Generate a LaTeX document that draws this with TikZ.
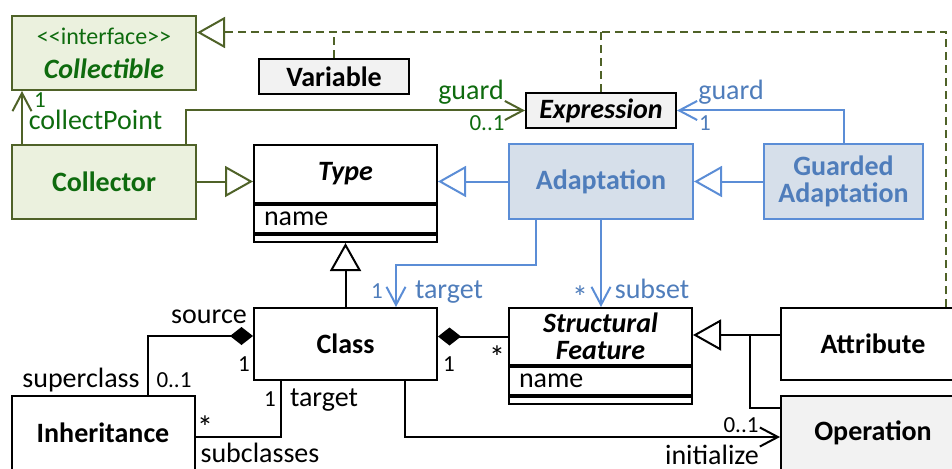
\documentclass[tikz,border=0pt]{standalone}
\usepackage{fontspec}
\setmainfont{Carlito}
\usetikzlibrary{arrows.meta}
\definecolor{grline}{HTML}{4F6228}
\definecolor{grfill}{HTML}{EBF1DE}
\definecolor{grtext}{HTML}{0E6B0E}
\definecolor{blline}{HTML}{5B8DD6}
\definecolor{blfill}{HTML}{D6DFEA}
\definecolor{bltext}{HTML}{4F7DBB}
\definecolor{ltgray}{HTML}{F2F2F2}
\tikzset{
  box/.style={draw, line width=2pt, inner sep=0pt, align=center, font=\fontsize{28}{27}\selectfont\bfseries},
  greenbox/.style={box, draw=grline, fill=grfill, text=grtext},
  bluebox/.style={box, draw=blline, fill=blfill, text=bltext},
  graybox/.style={box, fill=ltgray},
  attrbox/.style={draw, line width=2pt, inner ysep=0pt, inner xsep=10pt, text width=163pt, minimum height=28pt, align=left, font=\fontsize{28}{27}\selectfont},
  opsbox/.style={draw, line width=2pt, inner sep=0pt, minimum width=183pt, minimum height=7pt},
  role/.style={font=\fontsize{28}{28}\selectfont, anchor=base, inner sep=0pt},
  mult/.style={font=\fontsize{23}{23}\selectfont, anchor=base, inner sep=0pt},
  many/.style={font=\fontsize{32}{32}\selectfont, anchor=north, inner sep=0pt},
  assoc/.style={line width=2pt, -{Straight Barb[length=18pt,width=19pt]}},
  inherit/.style={line width=2pt, -{Triangle[open,fill=white,length=28pt,width=31pt]}},
  compose/.style={line width=2pt, -{Diamond[length=23pt,width=18pt]}},
  realize/.style={line width=2pt, grline, dash pattern=on 8pt off 5pt}
}
\begin{document}
\begin{tikzpicture}[x=1pt,y=-1pt]
\useasboundingbox (0,0) rectangle (952,468);
\node[greenbox, minimum width=184pt, minimum height=74pt] (collectible) at (104,53) {{\mdseries\fontsize{24}{24}\selectfont <{}<interface>{}>}\\[7pt]{\itshape Collectible}};
\node[graybox, minimum width=150pt, minimum height=35pt] (variable) at (334,76.5) {Variable};
\node[graybox, minimum width=150pt, minimum height=35pt] (expression) at (601,110.5) {\itshape Expression};
\node[greenbox, minimum width=184pt, minimum height=74pt] (collector) at (104,181.5) {Collector};
\node[box, minimum width=183pt, minimum height=58pt] (type) at (345.5,174) {\itshape Type};
\node[attrbox, anchor=north] (typeattr) at (type.south) {name};
\node[opsbox, anchor=north] (typeops) at (typeattr.south) {};
\node[bluebox, minimum width=184pt, minimum height=75pt] (adaptation) at (601,181.5) {Adaptation};
\node[bluebox, minimum width=159pt, minimum height=75pt] (guarded) at (843.5,181.5) {Guarded\\Adaptation};
\node[box, minimum width=183pt, minimum height=72pt] (class) at (345.5,344) {Class};
\node[box, minimum width=183pt, minimum height=57pt] (feature) at (600.5,336.5) {\itshape Structural\\\itshape Feature};
\node[attrbox, anchor=north] (featureattr) at (feature.south) {name};
\node[opsbox, anchor=north] (featureops) at (featureattr.south) {};
\node[box, minimum width=184pt, minimum height=72pt] (attribute) at (873,344) {Attribute};
\node[graybox, minimum width=184pt, minimum height=74pt] (operation) at (873,433) {Operation};
\node[box, minimum width=183pt, minimum height=74pt] (inheritance) at (103,433) {Inheritance};
% green part
\draw[assoc, grline] ([xshift=11pt]collector.north west) -- ([xshift=11pt]collectible.south west);
\draw[assoc, grline] ([xshift=-11pt]collector.north east) |- (expression.west);
\draw[inherit, grline] (collector.east) -- (collector.east -| type.west);
\coordinate (corner) at (946,32.5);
\draw[realize, inherit, dash pattern=on 8pt off 5pt] (attribute.north -| corner) -- (corner) -- (corner -| collectible.east);
\draw[realize] (variable.north) -- (variable.north |- corner);
\draw[realize] (expression.north) -- (expression.north |- corner);
\node[mult, grtext] (cpmult) at (40,108) {1};
\node[role, grtext] (cprole) at (95.5,129) {collectPoint};
\node[role, grtext] (grole) at (471,100) {guard};
\node[mult, grtext] (gmult) at (487,131) {0..1};
% blue part
\draw[inherit, blline] (adaptation.west) -- (adaptation.west -| type.east);
\draw[inherit, blline] (guarded.west) -- (adaptation.east);
\draw[assoc, blline] (guarded.north) |- (expression.east);
\draw[assoc, blline] ([xshift=28pt]adaptation.south west) |- ([xshift=143pt,yshift=42pt]class.north west) -- ([xshift=143pt]class.north west);
\draw[assoc, blline] (adaptation.south) -- (adaptation.south |- feature.north);
\node[role, bltext] (bgrole) at (731,100) {guard};
\node[mult, bltext] (bgmult) at (705,131) {1};
\node[mult, bltext] (tmult) at (377,298) {1};
\node[role, bltext] (trole) at (449,298) {target};
\node[many, bltext] (smult) at (580,286) {*};
\node[role, bltext] (srole) at (652,298) {subset};
% black part
\draw[inherit] (class.north) -- (typeops.south);
\draw[compose] (feature.west) -- (feature.west -| class.east);
\draw[compose] ([xshift=137pt]inheritance.north west) |- ([yshift=8pt]class.west);
\draw[line width=2pt] ([xshift=28pt]class.south west) |- ([yshift=-4pt]inheritance.east);
\draw[assoc] ([xshift=152pt]class.south west) |- ([yshift=-4pt]operation.west);
\coordinate (join) at (750,335);
\draw[inherit] (attribute.west |- join) -- (join -| feature.east);
\draw[line width=2pt] ([yshift=25pt]operation.west) -| (join);
\node[role] (sourcerole) at (209,323) {source};
\node[mult] (sourcemult) at (244,371) {1};
\node[role] (superrole) at (81,387) {superclass};
\node[mult] (supermult) at (174,387) {0..1};
\node[mult] (tgtmult) at (270,406) {1};
\node[role] (tgtrole) at (324,406) {target};
\node[many] (submult) at (205,416) {*};
\node[role] (subrole) at (260,462) {subclasses};
\node[mult] (classmult) at (449,371) {1};
\node[many] (featmult) at (497,346) {*};
\node[mult] (initmult) at (741,432) {0..1};
\node[role] (initrole) at (712,464) {initialize};
\end{tikzpicture}
\end{document}
